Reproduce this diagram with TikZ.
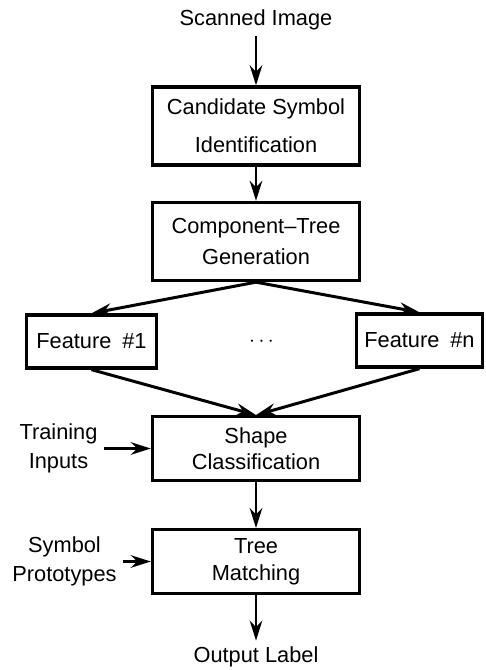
\documentclass[tikz,border=0pt]{standalone}
\usepackage{fontspec}
\setmainfont{Liberation Sans}
\usepackage{tikz}
\usetikzlibrary{positioning, arrows.meta, shapes}
\tikzstyle{process} = [rectangle, minimum width=4.14cm, minimum height=1.56cm, text centered, align=center, draw=black, line width=1.9pt, font=\fontsize{12.4}{16.5}\selectfont]
\tikzstyle{feature} = [process, minimum width=2.6cm, minimum height=1.06cm]
\tikzstyle{txt} = [align=center, font=\fontsize{12.4}{16.5}\selectfont]
\tikzstyle{arrow} = [line width=1.7pt,->,>={Stealth[length=0.4cm,width=0.25cm]}]

\begin{document}
\begin{tikzpicture}[node distance=2.2cm]
\useasboundingbox (0,0) rectangle (9.7,-13.4);
\node (Scan) [txt] at (5.12,-0.4) {Scanned Image};
\node (Cand) [process, below of=Scan, node distance=2.12cm] {Candidate Symbol\\[5pt]Identification};
\node (Comp) [process, below of=Cand, node distance=2.31cm] {Component--Tree\\[1pt]Generation};
\node (FeatA) [feature, below of=Comp, node distance=2.0cm, xshift=-3.29cm] {Feature\hspace{0.5em}\#1};
\node (FeatN) [feature, below of=Comp, node distance=1.98cm, xshift=3.27cm, minimum width=2.52cm] {Feature\hspace{0.5em}\#n};
\node (Dots) [txt, below of=Comp, node distance=2.0cm, xshift=0.11cm] {$\cdots$};
\node (Shape) [process, below of=Comp, node distance=4.14cm, minimum height=1.27cm] {Shape\\[-2pt]Classification};
\node (Tree) [process, below of=Shape, node distance=2.26cm, minimum height=1.27cm] {Tree\\[-1pt]Matching};
\node (Out) [txt, below of=Tree, node distance=1.91cm] {Output Label};
\node (Train) [txt, left of=Shape, node distance=3.95cm] {Training\\Inputs};
\node (Proto) [txt, left of=Tree, node distance=3.83cm] {Symbol\\Prototypes};

\draw [arrow] (Scan) -- (Cand);
\draw [arrow] (Cand) -- (Comp);
\draw [arrow] (Comp.south) -- (FeatA.north);
\draw [arrow] (Comp.south) -- (FeatN.north);
\draw [arrow] (FeatA.south) -- (Shape.north);
\draw [arrow] (FeatN.south) -- (Shape.north);
\draw [arrow] (Train.east) -- (Shape.west);
\draw [arrow] (Shape) -- (Tree);
\draw [arrow] (Proto.east) -- (Tree.west);
\draw [arrow] (Tree) -- (Out);
\end{tikzpicture}
\end{document}
